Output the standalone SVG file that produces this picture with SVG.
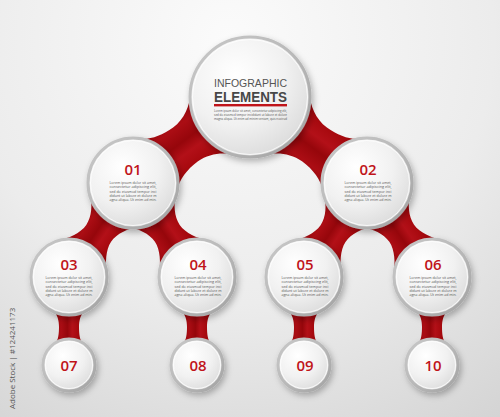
<svg xmlns="http://www.w3.org/2000/svg" width="500" height="417" viewBox="0 0 500 417">
<defs>
<radialGradient id="bg" gradientUnits="userSpaceOnUse" cx="230" cy="40" r="480">
<stop offset="0" stop-color="#fbfbfb"/><stop offset="0.55" stop-color="#ececec"/><stop offset="1" stop-color="#d2d2d2"/>
</radialGradient>
<radialGradient id="face" cx="0.38" cy="0.32" r="0.75">
<stop offset="0" stop-color="#ffffff"/><stop offset="0.55" stop-color="#f1f1f1"/><stop offset="1" stop-color="#d9d9d9"/>
</radialGradient>
<linearGradient id="ring" x1="0" y1="0" x2="1" y2="1">
<stop offset="0" stop-color="#c8c8c8"/><stop offset="0.5" stop-color="#b9b9b9"/><stop offset="1" stop-color="#a2a2a2"/>
</linearGradient>
<linearGradient id="red" x1="0" y1="0" x2="0" y2="1">
<stop offset="0" stop-color="#8c0509"/><stop offset="0.2" stop-color="#a5080d"/><stop offset="0.4" stop-color="#b31018"/><stop offset="0.55" stop-color="#96060b"/><stop offset="0.75" stop-color="#ab0d14"/><stop offset="1" stop-color="#8a0508"/>
</linearGradient>
<filter id="sh" x="-30%" y="-30%" width="160%" height="160%">
<feDropShadow dx="2" dy="3" stdDeviation="3" flood-color="#000" flood-opacity="0.28"/>
</filter>
<path id="neckTop" d="M0,-38 L46.5,-38 C53,-29 66,-21 80,-21 C94,-21 106.5,-25 113.6,-32 L145.2,-32 L145.2,32 L113.6,32 C106.5,25 94,21 80,21 C66,21 53,29 46.5,38 L0,38 Z"/>
<path id="neckMid" d="M0,-28 L35.2,-28 C40.2,-21.7 51,-15 61,-15 C71,-15 82.1,-22.6 88,-28 L113.7,-28 L113.7,28 L88,28 C82.1,22.6 71,15 61,15 C51,15 40.2,21.7 35.2,28 L0,28 Z"/>
<path id="neckLow" d="M0,-16 L34.5,-16 C36.6,-11.5 44,-10 50,-10 C56,-10 64,-10.6 66.1,-14 L88,-14 L88,14 L66.1,14 C64,10.6 56,10 50,10 C44,10 36.6,11.5 34.5,16 L0,16 Z"/>
</defs>
<style>
.face{fill:url(#face);stroke:url(#ring);stroke-width:3;filter:url(#sh)}
.hl{fill:none;stroke:#ffffff;stroke-opacity:0.8;stroke-width:1}
.neck{fill:url(#red)}
.num{font-family:"Open Sans","Liberation Sans",sans-serif;font-weight:600;fill:#c0141a;text-anchor:middle}
.body{font-family:"Open Sans","Liberation Sans",sans-serif;fill:#575757;font-size:4.2px;text-anchor:middle}
.tiny{font-family:"Open Sans","Liberation Sans",sans-serif;fill:#555;font-size:3.2px;text-anchor:middle}
.head{font-family:"Liberation Sans",Arial,sans-serif;text-anchor:middle}
</style>
<rect width="500" height="417" fill="url(#bg)"/>
<text transform="translate(15,409) rotate(-90)" font-family="'Open Sans','Liberation Sans',sans-serif" font-size="8" fill="#555">Adobe Stock | #124241173</text>
<g id="connectors">
<use href="#neckTop" class="neck" transform="translate(250,97) rotate(143.68)"/>
<use href="#neckTop" class="neck" transform="translate(250,97) rotate(36.32)"/>
<use href="#neckMid" class="neck" transform="translate(133,183) rotate(124.25)"/>
<use href="#neckMid" class="neck" transform="translate(133,183) rotate(55.75)"/>
<use href="#neckMid" class="neck" transform="translate(367,183) rotate(123.83)"/>
<use href="#neckMid" class="neck" transform="translate(367,183) rotate(55.34)"/>
<use href="#neckLow" class="neck" transform="translate(69,277) rotate(90)"/>
<use href="#neckLow" class="neck" transform="translate(197,277) rotate(90)"/>
<use href="#neckLow" class="neck" transform="translate(304,277) rotate(90)"/>
<use href="#neckLow" class="neck" transform="translate(432,277) rotate(90)"/>
</g>
<g id="node-main">
<circle class="face" cx="250" cy="97" r="60"/>
<circle class="hl" cx="250" cy="97" r="57.5"/>
<text class="head" x="250.5" y="86.5" font-size="11" fill="#555" textLength="73" lengthAdjust="spacingAndGlyphs">INFOGRAPHIC</text>
<text class="head" x="250.5" y="101.5" font-weight="700" font-size="14" fill="#474747" textLength="73" lengthAdjust="spacingAndGlyphs">ELEMENTS</text>
<rect x="214" y="104" width="73" height="2.4" fill="#c0141a"/>
<text class="tiny"><tspan x="250.5" y="112" textLength="73" lengthAdjust="spacingAndGlyphs">Lorem ipsum dolor sit amet, consectetur adipiscing elit,</tspan><tspan x="250.5" y="115.8" textLength="73" lengthAdjust="spacingAndGlyphs">sed do eiusmod tempor incididunt ut labore et dolore</tspan><tspan x="250.5" y="119.6" textLength="73" lengthAdjust="spacingAndGlyphs">magna aliqua. Ut enim ad minim veniam, quis nostrud</tspan></text>
</g>
<g id="node-01">
<circle class="face" cx="133" cy="183" r="45"/>
<circle class="hl" cx="133" cy="183" r="42.5"/>
<text class="num" x="133" y="175" font-size="15">01</text>
<text class="body" x="133" y="184" textLength="47" lengthAdjust="spacingAndGlyphs">Lorem ipsum dolor sit amet,</text>
<text class="body" x="133" y="188.3" textLength="47" lengthAdjust="spacingAndGlyphs">consectetur adipiscing elit,</text>
<text class="body" x="133" y="192.6" textLength="47" lengthAdjust="spacingAndGlyphs">sed do eiusmod tempor inci</text>
<text class="body" x="133" y="196.9" textLength="47" lengthAdjust="spacingAndGlyphs">didunt ut labore et dolore m</text>
<text class="body" x="133" y="201.2" textLength="47" lengthAdjust="spacingAndGlyphs">agna aliqua. Ut enim ad min.</text>
</g>
<g id="node-02">
<circle class="face" cx="367" cy="183" r="45"/>
<circle class="hl" cx="367" cy="183" r="42.5"/>
<text class="num" x="368" y="175" font-size="15">02</text>
<text class="body" x="368" y="184" textLength="47" lengthAdjust="spacingAndGlyphs">Lorem ipsum dolor sit amet,</text>
<text class="body" x="368" y="188.3" textLength="47" lengthAdjust="spacingAndGlyphs">consectetur adipiscing elit,</text>
<text class="body" x="368" y="192.6" textLength="47" lengthAdjust="spacingAndGlyphs">sed do eiusmod tempor inci</text>
<text class="body" x="368" y="196.9" textLength="47" lengthAdjust="spacingAndGlyphs">didunt ut labore et dolore m</text>
<text class="body" x="368" y="201.2" textLength="47" lengthAdjust="spacingAndGlyphs">agna aliqua. Ut enim ad min.</text>
</g>
<g id="node-03">
<circle class="face" cx="69" cy="277" r="38"/>
<circle class="hl" cx="69" cy="277" r="35.5"/>
<text class="num" x="69" y="270" font-size="15">03</text>
<text class="body" x="69" y="279" textLength="47" lengthAdjust="spacingAndGlyphs">Lorem ipsum dolor sit amet,</text>
<text class="body" x="69" y="283.3" textLength="47" lengthAdjust="spacingAndGlyphs">consectetur adipiscing elit,</text>
<text class="body" x="69" y="287.6" textLength="47" lengthAdjust="spacingAndGlyphs">sed do eiusmod tempor inci</text>
<text class="body" x="69" y="291.9" textLength="47" lengthAdjust="spacingAndGlyphs">didunt ut labore et dolore m</text>
<text class="body" x="69" y="296.2" textLength="47" lengthAdjust="spacingAndGlyphs">agna aliqua. Ut enim ad min.</text>
</g>
<g id="node-04">
<circle class="face" cx="197" cy="277" r="38"/>
<circle class="hl" cx="197" cy="277" r="35.5"/>
<text class="num" x="198" y="270" font-size="15">04</text>
<text class="body" x="198" y="279" textLength="47" lengthAdjust="spacingAndGlyphs">Lorem ipsum dolor sit amet,</text>
<text class="body" x="198" y="283.3" textLength="47" lengthAdjust="spacingAndGlyphs">consectetur adipiscing elit,</text>
<text class="body" x="198" y="287.6" textLength="47" lengthAdjust="spacingAndGlyphs">sed do eiusmod tempor inci</text>
<text class="body" x="198" y="291.9" textLength="47" lengthAdjust="spacingAndGlyphs">didunt ut labore et dolore m</text>
<text class="body" x="198" y="296.2" textLength="47" lengthAdjust="spacingAndGlyphs">agna aliqua. Ut enim ad min.</text>
</g>
<g id="node-05">
<circle class="face" cx="304" cy="277" r="38"/>
<circle class="hl" cx="304" cy="277" r="35.5"/>
<text class="num" x="305" y="270" font-size="15">05</text>
<text class="body" x="305" y="279" textLength="47" lengthAdjust="spacingAndGlyphs">Lorem ipsum dolor sit amet,</text>
<text class="body" x="305" y="283.3" textLength="47" lengthAdjust="spacingAndGlyphs">consectetur adipiscing elit,</text>
<text class="body" x="305" y="287.6" textLength="47" lengthAdjust="spacingAndGlyphs">sed do eiusmod tempor inci</text>
<text class="body" x="305" y="291.9" textLength="47" lengthAdjust="spacingAndGlyphs">didunt ut labore et dolore m</text>
<text class="body" x="305" y="296.2" textLength="47" lengthAdjust="spacingAndGlyphs">agna aliqua. Ut enim ad min.</text>
</g>
<g id="node-06">
<circle class="face" cx="432" cy="277" r="38"/>
<circle class="hl" cx="432" cy="277" r="35.5"/>
<text class="num" x="433" y="270" font-size="15">06</text>
<text class="body" x="433" y="279" textLength="47" lengthAdjust="spacingAndGlyphs">Lorem ipsum dolor sit amet,</text>
<text class="body" x="433" y="283.3" textLength="47" lengthAdjust="spacingAndGlyphs">consectetur adipiscing elit,</text>
<text class="body" x="433" y="287.6" textLength="47" lengthAdjust="spacingAndGlyphs">sed do eiusmod tempor inci</text>
<text class="body" x="433" y="291.9" textLength="47" lengthAdjust="spacingAndGlyphs">didunt ut labore et dolore m</text>
<text class="body" x="433" y="296.2" textLength="47" lengthAdjust="spacingAndGlyphs">agna aliqua. Ut enim ad min.</text>
</g>
<g id="node-07">
<circle class="face" cx="69" cy="365" r="26"/>
<circle class="hl" cx="69" cy="365" r="23.5"/>
<text class="num" x="69" y="371" font-size="15">07</text>
</g>
<g id="node-08">
<circle class="face" cx="197" cy="365" r="26"/>
<circle class="hl" cx="197" cy="365" r="23.5"/>
<text class="num" x="198" y="371" font-size="15">08</text>
</g>
<g id="node-09">
<circle class="face" cx="304" cy="365" r="26"/>
<circle class="hl" cx="304" cy="365" r="23.5"/>
<text class="num" x="305" y="371" font-size="15">09</text>
</g>
<g id="node-10">
<circle class="face" cx="432" cy="365" r="26"/>
<circle class="hl" cx="432" cy="365" r="23.5"/>
<text class="num" x="433" y="371" font-size="15">10</text>
</g>
</svg>
